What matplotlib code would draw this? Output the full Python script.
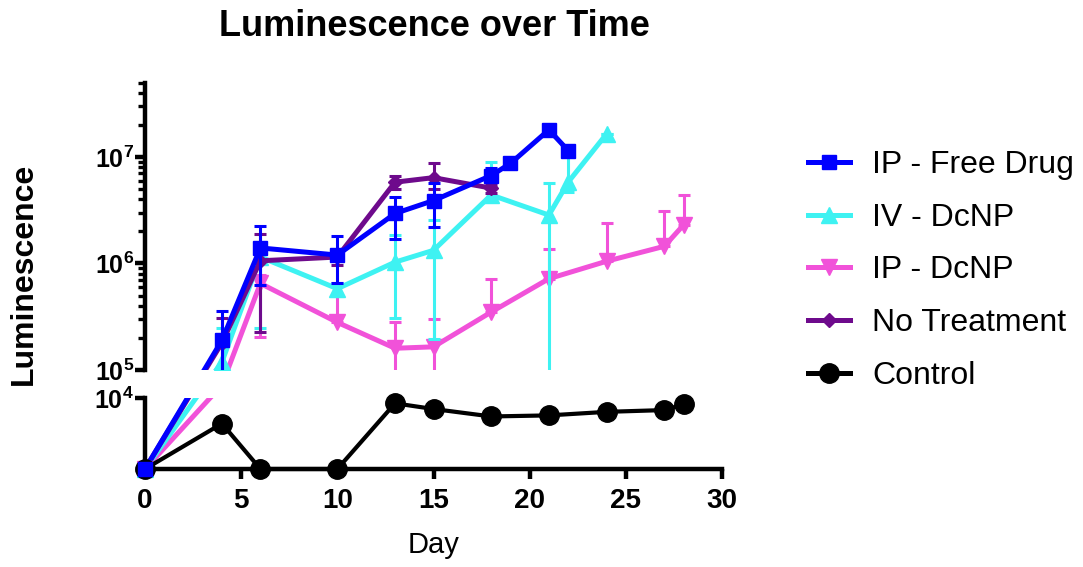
import numpy as np
import matplotlib
matplotlib.use('Agg')
import matplotlib.pyplot as plt
from matplotlib.lines import Line2D
from matplotlib.ticker import FixedLocator, NullFormatter

plt.rcParams['font.family'] = ['Liberation Sans', 'DejaVu Sans']
plt.rcParams['mathtext.fontset'] = 'custom'
plt.rcParams['mathtext.rm'] = 'Liberation Sans'
plt.rcParams['mathtext.bf'] = 'Liberation Sans:bold'

# data (day, mean, lower / upper end of error bar)
free_days = [0, 4, 6, 10, 13, 15, 18, 19, 21, 22]
free_val = [0, 1.9e5, 1.4e6, 1.2e6, 2.95e6, 3.9e6, 6.7e6, 8.7e6, 1.8e7, 1.15e7]
free_lo = [0, 5e4, 6.3e5, 6.6e5, 1.7e6, 2.2e6, 5.8e6, 8.7e6, 1.8e7, 1.15e7]
free_hi = [0, 3.6e5, 2.25e6, 1.8e6, 4.2e6, 5.7e6, 7.8e6, 8.7e6, 1.8e7, 1.15e7]

iv_days = [0, 4, 6, 10, 13, 15, 18, 21, 22, 24]
iv_val = [0, 1.19e5, 1.15e6, 5.8e5, 1.03e6, 1.33e6, 4.4e6, 2.85e6, 5.8e6, 1.65e7]
iv_lo = [0, 5e4, 2.5e5, 5.0e5, 3.1e5, 1.95e5, 4.0e6, 5e4, 4.7e6, 1.65e7]
iv_hi = [0, 2.5e5, 1.4e6, 6.6e5, 1.85e6, 2.55e6, 9.0e6, 5.7e6, 1.1e7, 1.65e7]

ip_days = [0, 4, 6, 10, 13, 15, 18, 21, 24, 27, 28]
ip_val = [0, 2.9e4, 6.5e5, 2.8e5, 1.6e5, 1.65e5, 3.5e5, 7.2e5, 1.05e6, 1.45e6, 2.3e6]
ip_lo = [0, 2.9e4, 2.05e5, 2.8e5, 5e4, 5e4, 3.5e5, 7.2e5, 1.05e6, 1.45e6, 2.3e6]
ip_hi = [0, 2.9e4, 7.8e5, 5.2e5, 2.85e5, 3.0e5, 7.2e5, 1.38e6, 2.4e6, 3.1e6, 4.4e6]

nt_days = [0, 4, 6, 10, 13, 15, 18]
nt_val = [0, 1.8e5, 1.06e6, 1.15e6, 5.8e6, 6.4e6, 5.1e6]
nt_lo = [0, 8e4, 2.27e5, 9.6e5, 5.0e6, 5.0e6, 4.6e6]
nt_hi = [0, 3.07e5, 1.9e6, 1.3e6, 6.6e6, 8.8e6, 5.5e6]

ctrl_days = [0, 4, 6, 10, 13, 15, 18, 21, 24, 27, 28]
ctrl_val = [0, 6400, 0, 0, 9250, 8450, 7400, 7550, 8050, 8300, 9100]

labels = ['IP - Free Drug', 'IV - DcNP', 'IP - DcNP', 'No Treatment', 'Control']
colors = ['#0000FF', '#3EF2F2', '#F152D9', '#6E0A8C', '#000000']

# broken y axis: linear 0..1e4 below, log 1e5..5e7 above (units = pixels)
LOW_H, GAP, DEC = 71.0, 28.0, 106.5

def fwd(y):
    y = np.asarray(y, dtype=float)
    lg = np.log10(np.maximum(y, 1e-12))
    lo = LOW_H * y / 1e4
    mid = LOW_H + GAP * (lg - 4)
    hi = LOW_H + GAP + DEC * (lg - 5)
    return np.where(y <= 1e4, lo, np.where(y < 1e5, mid, hi))

def inv(p):
    p = np.asarray(p, dtype=float)
    lo = p / LOW_H * 1e4
    mid = 10 ** ((p - LOW_H) / GAP + 4)
    hi = 10 ** ((p - LOW_H - GAP) / DEC + 5)
    return np.where(p <= LOW_H, lo, np.where(p < LOW_H + GAP, mid, hi))

W, H = 1083, 567
fig = plt.figure(figsize=(W / 100, H / 100), dpi=100)
top_val = 5e7
up_h = DEC * np.log10(top_val / 1e5)
left, width = 145 / W, 577 / W
ax_lo = fig.add_axes([left, (H - 469) / H, width, LOW_H / H])
ax_up = fig.add_axes([left, (H - 469 + LOW_H + GAP) / H, width, up_h / H])

for ax in (ax_lo, ax_up):
    ax.set_yscale('function', functions=(fwd, inv))
    ax.set_xlim(0, 30)
    ax.patch.set_visible(False)
    for s in ['top', 'right']:
        ax.spines[s].set_visible(False)
    ax.spines['left'].set_linewidth(3.2)
    ax.spines['bottom'].set_linewidth(3.2)
    ax.tick_params(which='major', direction='out', length=7, width=3.2, labelsize=18)
    ax.tick_params(which='minor', direction='out', length=5, width=2.4)

ax_lo.set_ylim(0, 1e4)
ax_up.set_ylim(1e5, top_val)
ax_up.spines['bottom'].set_visible(False)
ax_up.tick_params(axis='x', bottom=False, labelbottom=False)

ax_up.yaxis.set_major_locator(FixedLocator([1e5, 1e6, 1e7]))
ax_up.set_yticklabels([r'$\mathbf{10^{5}}$', r'$\mathbf{10^{6}}$', r'$\mathbf{10^{7}}$'])
minors = [m * 10 ** e for e in (5, 6) for m in range(2, 10)] + [m * 1e7 for m in range(2, 6)]
ax_up.yaxis.set_minor_locator(FixedLocator(minors))
ax_up.yaxis.set_minor_formatter(NullFormatter())

ax_lo.yaxis.set_major_locator(FixedLocator([1e4]))
ax_lo.set_yticklabels([r'$\mathbf{10^{4}}$'])
ax_lo.yaxis.set_minor_locator(FixedLocator([]))
ax_lo.set_xticks([0, 5, 10, 15, 20, 25, 30])
ax_lo.tick_params(axis='x', labelsize=20, pad=7)
for t in ax_lo.get_xticklabels():
    t.set_fontweight('bold')
for ax in (ax_lo, ax_up):
    ax.tick_params(axis='y', pad=1)

groups = [
    (ip_days, ip_val, ip_lo, ip_hi, 'v', 11, colors[2], 2),
    (iv_days, iv_val, iv_lo, iv_hi, '^', 11, colors[1], 3),
    (nt_days, nt_val, nt_lo, nt_hi, 'D', 7, colors[3], 4),
    (free_days, free_val, free_lo, free_hi, 's', 10, colors[0], 5),
]

for d, v, lo, hi, mk, ms, c, z in groups:
    d = np.array(d); v = np.array(v); lo = np.array(lo); hi = np.array(hi)
    ax_up.errorbar(d, v, yerr=[v - lo, hi - v], fmt='-', marker=mk, ms=ms,
                   color=c, lw=3.6, elinewidth=2.2, capsize=4.5, capthick=2.2,
                   zorder=z)
    ax_lo.plot(d, v, '-', color=c, lw=3.6, zorder=z)
    low = v <= 1e4
    ax_lo.plot(d[low], v[low], ls='none', marker=mk, ms=ms, color=c,
               clip_on=False, zorder=z + 10)

ax_lo.plot(ctrl_days, ctrl_val, '-o', color='k', lw=3, ms=14, clip_on=False, zorder=20)
# blue marker at origin sits on top
ax_lo.plot(free_days[:1], free_val[:1], ls='none', marker='s', ms=10,
           color=colors[0], clip_on=False, zorder=30)

ax_lo.set_xlabel('Day', fontsize=21, labelpad=12)

fig.text(434 / W, 1 - 27 / H, 'Luminescence over Time', ha='center', va='center',
         fontsize=26, fontweight='bold')
fig.text(24 / W, 1 - 274 / H, 'Luminescence', ha='center', va='center',
         rotation=90, fontsize=23, fontweight='bold')

mk_list = ['s', '^', 'v', 'D', 'o']
ms_list = [10, 11, 11, 7, 14]
handles = [Line2D([], [], color=c, marker=m, ms=s, lw=3.6)
           for c, m, s in zip(colors, mk_list, ms_list)]
fig.legend(handles, labels, loc='upper left', bbox_to_anchor=(808 / W, 1 - 150 / H),
           frameon=False, fontsize=23, handlelength=1.3, handletextpad=0.7,
           labelspacing=0.71, borderpad=0, borderaxespad=0)

fig.savefig('out.png', dpi=100)
